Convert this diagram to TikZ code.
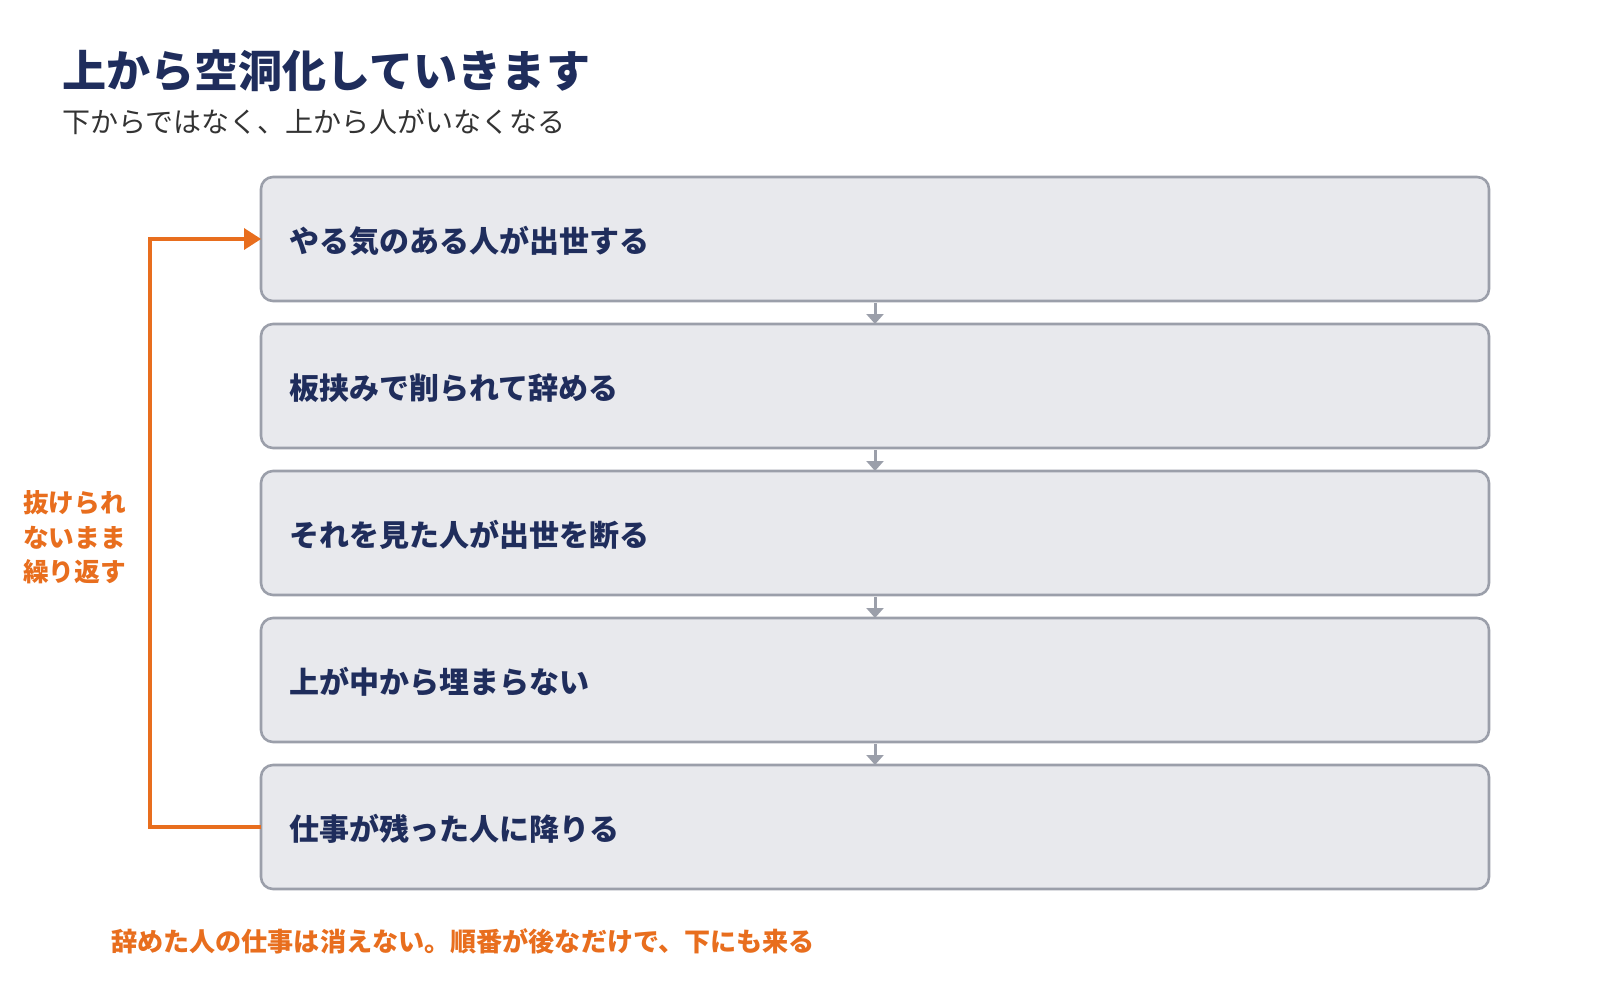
\documentclass[tikz,border=0pt]{standalone}
\usepackage{fontspec}
\setmainfont{Noto Sans CJK JP}
\newfontfamily\jp{Noto Sans CJK JP}
\usetikzlibrary{arrows.meta}
\definecolor{navy}{RGB}{31,45,92}
\definecolor{subgray}{RGB}{51,51,51}
\definecolor{boxfill}{RGB}{232,233,237}
\definecolor{boxline}{RGB}{155,159,170}
\definecolor{accent}{RGB}{232,110,30}
\tikzset{
  stepbox/.style={draw=boxline, fill=boxfill, line width=2.6pt, rounded corners=12pt,
    minimum width=1228pt, minimum height=124pt, outer sep=0pt, inner sep=0pt},
  boxtext/.style={anchor=west, inner sep=0pt, text=navy, font=\jp\bfseries\fontsize{30}{34}\selectfont},
  flowarrow/.style={draw=boxline, line width=3pt, -{Triangle[length=10pt,width=17pt]}},
  loopline/.style={draw=accent, line width=4pt, line join=miter},
  accenttext/.style={inner sep=0pt, text=accent, font=\jp\bfseries\fontsize{25.7}{34.5}\selectfont},
  notetext/.style={inner sep=0pt, text=accent, font=\jp\bfseries\fontsize{26.1}{34.5}\selectfont}
}
\begin{document}
\begin{tikzpicture}[x=1pt,y=-1pt]
\useasboundingbox (0,0) rectangle (1600,1000);
% title
\node[anchor=west, inner sep=0pt, text=navy, font=\jp\bfseries\fontsize{44.1}{50}\selectfont] (title) at (62,71) {上から空洞化していきます};
\node[anchor=west, inner sep=0pt, text=subgray, font=\jp\fontsize{28}{32}\selectfont] (subtitle) at (62,121.5) {下からではなく、上から人がいなくなる};
% boxes
\node[stepbox] (b1) at (875,239) {};
\node[stepbox] (b2) at (875,386) {};
\node[stepbox] (b3) at (875,533) {};
\node[stepbox] (b4) at (875,680) {};
\node[stepbox] (b5) at (875,827) {};
\node[boxtext] (t1) at (289,241) {やる気のある人が出世する};
\node[boxtext] (t2) at (289,388) {板挟みで削られて辞める};
\node[boxtext] (t3) at (289,535) {それを見た人が出世を断る};
\node[boxtext] (t4) at (289,682) {上が中から埋まらない};
\node[boxtext] (t5) at (289,829) {仕事が残った人に降りる};
% flow arrows
\draw[flowarrow, shorten <=2pt] (b1.south) -- (b2.north);
\draw[flowarrow, shorten <=2pt] (b2.south) -- (b3.north);
\draw[flowarrow, shorten <=2pt] (b3.south) -- (b4.north);
\draw[flowarrow, shorten <=2pt] (b4.south) -- (b5.north);
% loop
\coordinate (lp) at (150,533);
\draw[loopline] (b5.west) -- (b5.west -| lp) -- (b1.west -| lp) -- ([xshift=-17pt]b1.west);
\fill[accent] (b1.west) -- ++(-17,-11) -- ++(0,22) -- cycle;
\node[accenttext, anchor=west, align=left] (looplabel) at (23,537.5) {抜けられ\\ないまま\\繰り返す};
% note
\node[notetext, anchor=west] (note) at (111,941) {辞めた人の仕事は消えない。順番が後なだけで、下にも来る};
\end{tikzpicture}
\end{document}
